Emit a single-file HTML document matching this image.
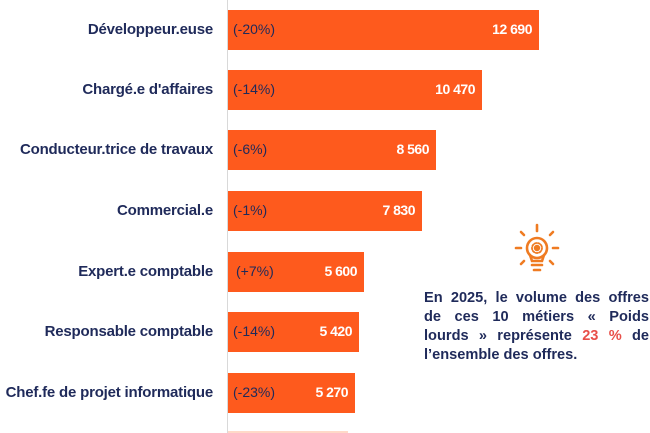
<!DOCTYPE html>
<html><head><meta charset="utf-8"><style>
html,body{margin:0;width:650px;height:433px;overflow:hidden}
body{background:#fff;position:relative;font-family:"Liberation Sans",sans-serif}
.ax{position:absolute;left:227px;top:0;width:1px;height:433px;background:#d9d9d9}
.lab{position:absolute;right:437px;font-weight:bold;color:#1f2a5a;font-size:15px;white-space:nowrap;line-height:20px;letter-spacing:-0.2px}
.bar{position:absolute;left:228px;height:40px;background:#fe5a1d;color:#fff;font-size:14px}
.p{position:absolute;left:5px;top:11px;color:#1f2a5a}
.v{position:absolute;right:7px;top:11px;font-weight:bold;color:#fff;letter-spacing:-0.5px}
.txt{position:absolute;left:424px;top:289px;width:225px;font-weight:bold;color:#1f2a5a;font-size:14.6px;line-height:19px}
.txt div{text-align:justify;text-align-last:justify;white-space:nowrap}
</style></head><body>
<div class="ax"></div>
<div class="lab" style="top:20px">Développeur.euse</div>
<div class="bar" style="top:10px;width:311px"><span class="p">(-20%)</span><span class="v">12 690</span></div>
<div class="lab" style="top:80px">Chargé.e d'affaires</div>
<div class="bar" style="top:70px;width:254px"><span class="p">(-14%)</span><span class="v">10 470</span></div>
<div class="lab" style="top:140px">Conducteur.trice de travaux</div>
<div class="bar" style="top:130px;width:208px"><span class="p">(-6%)</span><span class="v">8 560</span></div>
<div class="lab" style="top:201px">Commercial.e</div>
<div class="bar" style="top:191px;width:194px"><span class="p">(-1%)</span><span class="v">7 830</span></div>
<div class="lab" style="top:262px">Expert.e comptable</div>
<div class="bar" style="top:252px;width:136px"><span class="p" style="left:8px">(+7%)</span><span class="v">5 600</span></div>
<div class="lab" style="top:322px">Responsable comptable</div>
<div class="bar" style="top:312px;width:131px"><span class="p">(-14%)</span><span class="v">5 420</span></div>
<div class="lab" style="top:383px">Chef.fe de projet informatique</div>
<div class="bar" style="top:373px;width:127px"><span class="p">(-23%)</span><span class="v">5 270</span></div>
<div class="bar" style="top:431px;width:120px;height:2px;background:#ffd9c8"></div>
<svg style="position:absolute;left:510px;top:222px" width="56" height="56" viewBox="0 0 56 56" fill="none" stroke="#ef7b22" stroke-width="2.6" stroke-linecap="round">
<circle cx="27" cy="26" r="10"/>
<path d="M20 33 L22 39 L32 39 L34 33"/>
<line x1="22" y1="43" x2="32" y2="43"/><line x1="24" y1="48" x2="30" y2="48"/>
<line x1="27" y1="3" x2="27" y2="9"/>
<line x1="11" y1="10" x2="14" y2="13"/><line x1="43" y1="10" x2="40" y2="13"/>
<line x1="6" y1="26" x2="11" y2="26"/><line x1="43" y1="26" x2="48" y2="26"/>
<line x1="11" y1="42" x2="14" y2="39"/><line x1="43" y1="42" x2="40" y2="39"/>
<circle cx="27" cy="26" r="2.5" fill="#ef7b22" stroke-width="1.5"/>
<circle cx="27" cy="26" r="5" stroke-width="1.8" stroke-dasharray="2 1.5"/>
</svg>
<div class="txt"><div>En 2025, le volume des offres</div><div>de ces 10 métiers « Poids</div><div>lourds » représente <span style="color:#e8504a">23 %</span> de</div><div style="text-align-last:left">l’ensemble des offres.</div></div>
</body></html>
